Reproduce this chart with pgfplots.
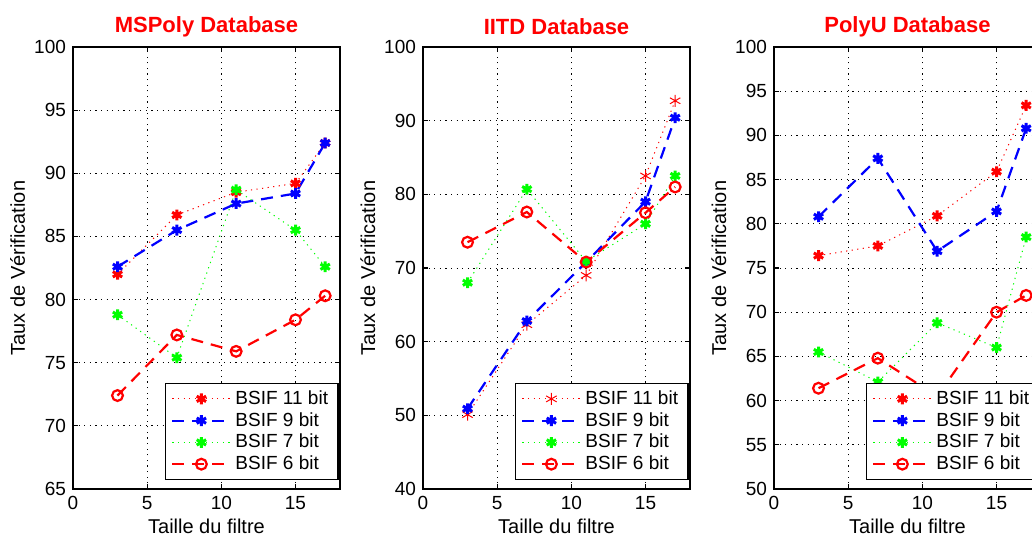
\documentclass[border=0pt]{standalone}
\usepackage{fontspec}
\setmainfont{Liberation Sans}
\usepackage{pgfplots}
\pgfplotsset{compat=1.18}

\definecolor{mred}{rgb}{1,0,0}
\definecolor{mblue}{rgb}{0,0,1}
\definecolor{mgreen}{rgb}{0,1,0}

\pgfplotsset{
  bsif/.style={
    scale only axis, width=133.5pt, height=221pt,
    xmin=0, xmax=18, xtick={0,5,10,15},
    grid=major,
    grid style={black, line width=0.4pt, dash pattern=on 0.6pt off 2.2pt},
    tick align=inside, xtick pos=both, ytick pos=both,
    major tick length=2.5pt,
    axis line style={line width=0.8pt},
    every tick/.style={black, line width=0.6pt},
    /pgf/number format/assume math mode=true,
    tick label style={font=\fontsize{9.5}{11}\selectfont},
    label style={font=\fontsize{9.5}{11}\selectfont},
    every axis x label/.style={at={(axis description cs:0.5,-0.084)}, anchor=center},
    every axis y label/.style={at={(axis description cs:-0.207,0.5)}, rotate=90, anchor=center},
    every axis title/.style={at={(axis description cs:0.5,1.045)}, anchor=center,
      font=\bfseries\fontsize{11}{13}\selectfont, text=mred},
    xlabel={Taille du filtre}, ylabel={Taux de Vérification},
    legend cell align=left,
    legend style={at={(axis description cs:0.995,0.02)}, anchor=south east,
      draw=black, line width=0.6pt, font=\fontsize{9.5}{11}\selectfont,
      inner xsep=3pt, inner ysep=1.5pt, row sep=-1.5pt},
    legend image code/.code={\draw[mark repeat=2, mark phase=2, #1]
      plot coordinates {(0pt,0pt) (14.5pt,0pt) (29pt,0pt)};},
  },
  b11/.style={mred, line width=0.5pt, dash pattern=on 0.6pt off 2.2pt,
    mark=asterisk, mark size=2.7pt, mark options={solid, line width=1.5pt}},
  b11thin/.style={mred, line width=0.5pt, dash pattern=on 0.6pt off 2.2pt,
    mark=asterisk, mark size=3pt, mark options={solid, line width=0.5pt}},
  b9/.style={mblue, line width=1.1pt, dash pattern=on 6pt off 4pt,
    mark=asterisk, mark size=2.7pt, mark options={solid, line width=1.5pt}},
  b7/.style={mgreen, line width=0.5pt, dash pattern=on 0.6pt off 2.2pt,
    mark=asterisk, mark size=2.7pt, mark options={solid, line width=1.5pt}},
  b6/.style={mred, line width=1.1pt, dash pattern=on 6pt off 4pt,
    mark=o, mark size=2.7pt, mark options={solid, line width=1.1pt}},
}

\begin{document}
\begin{tikzpicture}
\useasboundingbox (0,0) rectangle (516pt,268pt);

% MSPoly
\begin{axis}[bsif, at={(36.5pt,23.5pt)}, anchor=south west,
  title={MSPoly Database}, ymin=65, ymax=100, ytick={65,70,...,100}]
\addplot[b11] coordinates {(3,82.0)(7,86.7)(11,88.5)(15,89.2)(17,92.4)};
\addlegendentry{BSIF 11 bit}
\addplot[b9] coordinates {(3,82.6)(7,85.5)(11,87.6)(15,88.4)(17,92.4)};
\addlegendentry{BSIF 9 bit}
\addplot[b7] coordinates {(3,78.8)(7,75.4)(11,88.7)(15,85.5)(17,82.6)};
\addlegendentry{BSIF 7 bit}
\addplot[b6] coordinates {(3,72.4)(7,77.2)(11,75.9)(15,78.4)(17,80.3)};
\addlegendentry{BSIF 6 bit}
\end{axis}

% IITD
\begin{axis}[bsif, at={(211.5pt,23.5pt)}, anchor=south west,
  title={IITD Database}, ymin=40, ymax=100, ytick={40,50,...,100}]
\addplot[b11thin] coordinates {(3,50.1)(7,62.3)(11,69.0)(15,82.5)(17,92.7)};
\addlegendentry{BSIF 11 bit}
\addplot[b9] coordinates {(3,50.9)(7,62.8)(11,70.8)(15,79.0)(17,90.4)};
\addlegendentry{BSIF 9 bit}
\addplot[b7] coordinates {(3,68.0)(7,80.7)(11,70.9)(15,76.0)(17,82.5)};
\addlegendentry{BSIF 7 bit}
\addplot[b6] coordinates {(3,73.5)(7,77.6)(11,70.8)(15,77.5)(17,81.0)};
\addlegendentry{BSIF 6 bit}
\end{axis}

% PolyU
\begin{axis}[bsif, at={(387pt,23.5pt)}, anchor=south west,
  title={PolyU Database}, ymin=50, ymax=100, ytick={50,55,...,100}]
\addplot[b11] coordinates {(3,76.4)(7,77.5)(11,80.9)(15,85.9)(17,93.4)};
\addlegendentry{BSIF 11 bit}
\addplot[b9] coordinates {(3,80.8)(7,87.4)(11,76.9)(15,81.4)(17,90.8)};
\addlegendentry{BSIF 9 bit}
\addplot[b7] coordinates {(3,65.5)(7,62.1)(11,68.8)(15,66.0)(17,78.5)};
\addlegendentry{BSIF 7 bit}
\addplot[b6] coordinates {(3,61.4)(7,64.8)(11,60.5)(15,70.0)(17,71.9)};
\addlegendentry{BSIF 6 bit}
\end{axis}
\end{tikzpicture}
\end{document}
